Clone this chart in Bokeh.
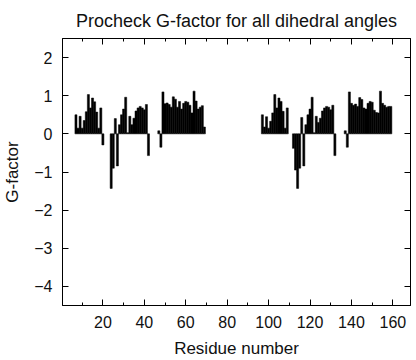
from bokeh.plotting import figure
from bokeh.models import LinearAxis, SingleIntervalTicker, ColumnDataSource
from bokeh.embed import file_html
from bokeh.resources import INLINE

# ---- data (residue number, G-factor) ----
residues_a = [7, 8, 9, 10, 11, 12, 13, 14, 15, 16, 17, 18, 19, 20,
              24, 25, 26, 27, 28, 29, 30, 31, 32, 33, 34, 35, 36, 37, 38, 39, 40, 41, 42]
gfactor_a = [0.50, 0.15, 0.46, 0.15, 0.35, 0.58, 1.03, 0.68, 0.94, 0.84, 0.57, 0.15, 0.68, -0.29,
             -1.43, -0.90, 0.40, -0.84, 0.24, 0.50, 0.65, 0.96, 0.03, 0.46, 0.24, 0.41, 0.60, 0.68,
             0.72, 0.68, 0.63, 0.77, -0.57]

residues_b = [47, 48, 49, 50, 51, 52, 53, 54, 55, 56, 57, 58, 59, 60, 61, 62, 63, 64, 65, 66, 67, 68, 69]
gfactor_b = [0.08, -0.35, 1.10, 0.79, 0.81, 0.77, 0.70, 0.97, 0.91, 0.70, 0.85, 0.65, 0.80, 0.85,
             0.83, 0.75, 0.55, 1.12, 0.86, 0.65, 0.70, 0.74, 0.18]

residues_c = [97, 98, 99, 100, 101, 102, 103, 104, 105, 106, 107, 108, 109,
              112, 113, 114, 115, 116, 117, 118, 119, 120, 121, 122, 123, 124, 125, 126, 127,
              128, 129, 130, 131, 132]
gfactor_c = [0.50, 0.18, 0.45, 0.15, 0.33, 0.55, 1.03, 0.68, 0.94, 0.85, 0.59, 0.15, 0.68,
             -0.38, -0.95, -1.43, -0.90, 0.43, -0.84, 0.24, 0.50, 0.65, 0.96, 0.03, 0.46, 0.30,
             0.41, 0.60, 0.68, 0.72, 0.70, 0.63, 0.75, -0.57]

residues_d = [137, 138, 139, 140, 141, 142, 143, 144, 145, 146, 147, 148, 149, 150, 151, 152, 153,
              154, 155, 156, 157, 158, 159]
gfactor_d = [0.08, -0.35, 1.10, 0.80, 0.75, 0.78, 0.72, 0.95, 0.90, 0.68, 0.65, 0.80, 0.85, 0.83,
             0.62, 0.56, 0.55, 1.12, 0.80, 0.75, 0.70, 0.72, 0.72]

x_ticks_step = 20
y_ticks_step = 1

residues = residues_a + residues_b + residues_c + residues_d
gfactor = gfactor_a + gfactor_b + gfactor_c + gfactor_d
src = ColumnDataSource(data=dict(res=residues, g=gfactor))

FONT = "Liberation Sans"

p = figure(width=416, height=360, x_range=(0.5, 168.5), y_range=(-4.5, 2.5),
           output_backend="svg", toolbar_location=None,
           title="Procheck G-factor for all dihedral angles",
           min_border_left=62, min_border_right=6, min_border_top=0, min_border_bottom=0)

p.vbar(x="res", top="g", bottom=0, width=1.0, source=src,
       fill_color="black", line_color="black", line_width=0.5)

p.title.text_font = FONT
p.title.text_font_size = "18px"
p.title.text_font_style = "normal"
p.title.align = "center"
p.title.text_color = "#111111"
p.title.standoff = 16

p.xgrid.visible = False
p.ygrid.visible = False
p.outline_line_color = "black"
p.outline_line_width = 1
p.background_fill_color = "white"
p.border_fill_color = "white"

xt = SingleIntervalTicker(interval=x_ticks_step, num_minor_ticks=2)
yt = SingleIntervalTicker(interval=y_ticks_step, num_minor_ticks=0)

def style_axis(ax, labels=True):
    ax.axis_line_color = "black"
    ax.major_tick_line_color = "black"
    ax.minor_tick_line_color = "black"
    ax.major_tick_in = 6
    ax.major_tick_out = 0
    ax.minor_tick_in = 3
    ax.minor_tick_out = 0
    ax.major_label_text_font = FONT
    ax.major_label_text_line_height = 1.0
    if labels:
        ax.major_label_text_font_size = "16px"
        ax.major_label_text_color = "#111111"
    else:
        ax.major_label_text_font_size = "1px"
        ax.major_label_text_color = None
        ax.major_label_standoff = 0
    ax.axis_label_text_font = FONT
    ax.axis_label_text_font_size = "17px"
    ax.axis_label_text_font_style = "normal"
    ax.axis_label_text_color = "#111111"
    ax.axis_label_text_line_height = 1.0

p.xaxis.ticker = xt
p.yaxis.ticker = yt
style_axis(p.xaxis[0])
style_axis(p.yaxis[0])
p.yaxis.minor_tick_line_color = None
p.xaxis.axis_label = "Residue number"
p.yaxis.axis_label = "G-factor"
p.xaxis.major_label_standoff = 10
p.xaxis.axis_label_standoff = 8
p.yaxis.major_label_standoff = 10
p.yaxis.axis_label_standoff = 9

top_ax = LinearAxis(ticker=xt)
style_axis(top_ax, labels=False)
p.add_layout(top_ax, "above")

right_ax = LinearAxis(ticker=yt)
style_axis(right_ax, labels=False)
right_ax.minor_tick_line_color = None
p.add_layout(right_ax, "right")

open("out.html", "w").write(file_html(p, INLINE))
